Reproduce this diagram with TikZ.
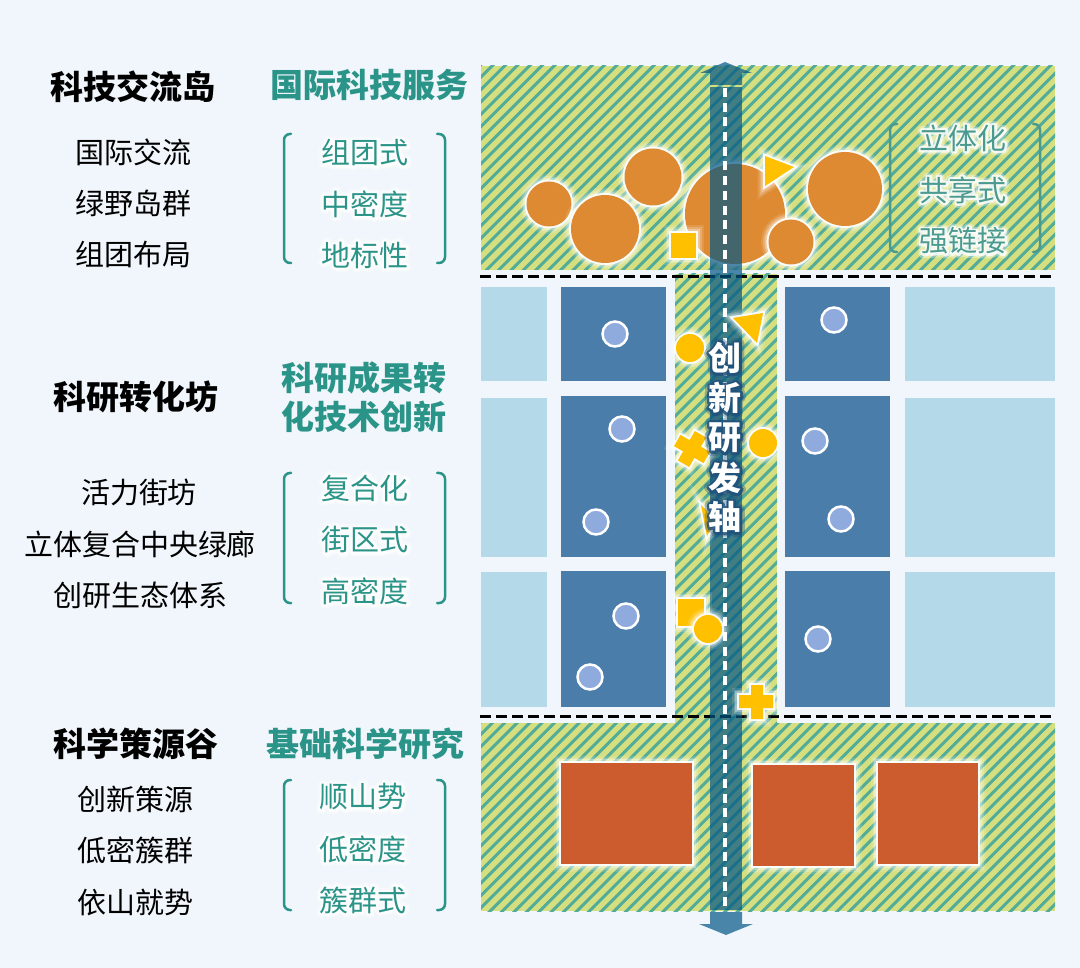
\documentclass[tikz,border=0pt]{standalone}
\usepackage{fontspec}
\setmainfont{Noto Sans CJK SC}
\newfontfamily\halofam[FakeBold=16]{Noto Sans CJK SC}
\newfontfamily\halofamwide[FakeBold=30]{Noto Sans CJK SC}
\definecolor{bgc}{HTML}{F0F6FB}
\definecolor{tealtxt}{HTML}{2B9488}
\definecolor{hatchbg}{HTML}{D5DF80}
\definecolor{hatchln}{HTML}{52AC98}
\definecolor{rtxt}{HTML}{4A9A90}
\definecolor{blockblue}{HTML}{4A7DA9}
\definecolor{blocklight}{HTML}{B4D9E8}
\definecolor{orangec}{HTML}{DD8A32}
\definecolor{brick}{HTML}{CC5B2E}
\definecolor{goldc}{HTML}{FFC000}
\definecolor{dotc}{HTML}{8FAADC}
\definecolor{axisc}{HTML}{035685}
\definecolor{axishalo}{HTML}{1F4F7A}
\tikzset{
  glow/.style={line join=round,
    preaction={draw=white,line width=15pt,opacity=.12},
    preaction={draw=white,line width=11pt,opacity=.2},
    preaction={draw=white,line width=7.5pt,opacity=.3},
    preaction={draw=white,line width=4pt,opacity=.9}},
  glowshape/.style={fill=#1,glow},
  dotmark/.style={fill=dotc,draw=white,line width=2.5pt},
  block/.style={fill=blockblue},
  lightblock/.style={fill=blocklight},
  axisfill/.style={fill=axisc,opacity=.7},
  sep/.style={draw=black,line width=3pt,dash pattern=on 11pt off 5pt},
  brk/.style={draw=#1,line width=2.5pt,line cap=round,rounded corners=6pt},
  plain/.style={inner sep=0pt,anchor=center,text=black,font=\fontsize{29}{30}\selectfont},
  title/.style={inner sep=0pt,anchor=center,text=black,font=\fontsize{33}{38}\selectfont\bfseries,align=center},
  tealtitle/.style={title,text=tealtxt},
  tealplain/.style={plain,text=tealtxt},
}
% text over wider copies of itself that form its halo
\newcommand\halotext[6]{% name, x, y, halo colour, style, text
  \node[#5,text=#4,opacity=.35,execute at begin node={\pgfsetroundjoin\halofamwide}] at (#2,#3) {#6};
  \node[#5,text=#4,opacity=.8,execute at begin node={\pgfsetroundjoin\halofam}] at (#2,#3) {#6};
  \node[#5] (#1) at (#2,#3) {#6};
}
\newcommand\hatchclip[4]{%
  \fill[hatchbg] (#1,#2) rectangle (#3,#4);
  \begin{scope}
    \clip (#1,#2) rectangle (#3,#4);
    \foreach \k in {0,...,170}
      {\draw[hatchln,line width=3pt] (\k*12.4,0) -- (\k*12.4-1000,1000);}
  \end{scope}
}
\begin{document}
\begin{tikzpicture}[x=1pt,y=-1pt]
\useasboundingbox (0,0) rectangle (1080,968);
\fill[bgc] (0,0) rectangle (1080,968);

% hatched fields
\hatchclip{481}{66}{1055}{270}
\hatchclip{675}{274}{777}{723}
\hatchclip{481}{723}{1055}{911}

% blocks
\fill[lightblock] (481,287) rectangle (547,381);
\fill[lightblock] (481,398) rectangle (547,557);
\fill[lightblock] (481,572) rectangle (547,707);
\fill[block] (561,287) rectangle (666,381);
\fill[block] (561,396) rectangle (666,557);
\fill[block] (561,571) rectangle (666,707);
\fill[block] (785,287) rectangle (890,381);
\fill[block] (785,396) rectangle (890,557);
\fill[block] (785,571) rectangle (890,707);
\fill[lightblock] (905,287) rectangle (1055,381);
\fill[lightblock] (905,398) rectangle (1055,557);
\fill[lightblock] (905,572) rectangle (1055,707);

% dots
\foreach \px/\py in {615/334,622/429,596/522,626/616,590/677,834/320,815/441,841/519,818/639}
  {\draw[dotmark] (\px,\py) circle[radius=12.5pt];}

% orange circles
\foreach \px/\py/\r in {735/214/50,549/204/22.5,605/229/34,653/177/28.5,845/189/37,791/242/22.5}
  {\path[glowshape=orangec] (\px,\py) circle[radius=\r pt];}

% brick blocks
\path[glowshape=brick] (561,763) rectangle (692,864);
\path[glowshape=brick] (753,765) rectangle (854,866);
\path[glowshape=brick] (878,763) rectangle (978,864);

% dashed separators
\coordinate (s1a) at (480,277); \coordinate (s1b) at (1055,277);
\coordinate (s2a) at (480,716); \coordinate (s2b) at (1055,716);
\draw[sep] (s1a) -- (s1b);
\draw[sep] (s2a) -- (s2b);

% axis
\fill[axisfill] (710,87) rectangle (742,910);
\fill[axisfill] (710,85) -- (710,73) -- (700,73) -- (725,62) -- (752,73) -- (742,73) -- (742,85) -- cycle;
\fill[axisfill] (710,912) -- (710,924) -- (699,924) -- (726,935) -- (753,924) -- (742,924) -- (742,912) -- cycle;
\coordinate (axT) at (725,88); \coordinate (axB) at (725,908);
\draw[white,line width=3.5pt,dash pattern=on 9pt off 5.7pt] (axT) -- (axB);

% gold marks
\path[glowshape=goldc] (671,233) rectangle (696,258);
\path[glowshape=goldc] (765,156) -- (794,167) -- (765,186) -- cycle;
\path[glowshape=goldc] (733,318) -- (763,313) -- (757,343) -- cycle;
\path[glowshape=goldc] (690,348) circle[radius=14pt];
\path[glowshape=goldc] (763,443) circle[radius=14pt];
\path[glowshape=goldc] (701,505) -- (716,520) -- (707,536) -- cycle;
\begin{scope}[shift={(692,449)},rotate=-30]
  \path[glowshape=goldc] (-6.5,-17) -- (6.5,-17) -- (6.5,-6.5) -- (17,-6.5) -- (17,6.5) -- (6.5,6.5) -- (6.5,17) -- (-6.5,17) -- (-6.5,6.5) -- (-17,6.5) -- (-17,-6.5) -- (-6.5,-6.5) -- cycle;
\end{scope}
\path[glowshape=goldc] (678,599) rectangle (704,626);
\path[glowshape=goldc] (708,629) circle[radius=14pt];
\path[glowshape=goldc] (751,685) -- (763,685) -- (763,695) -- (773,695) -- (773,708) -- (763,708) -- (763,719) -- (751,719) -- (751,708) -- (739,708) -- (739,695) -- (751,695) -- cycle;

% axis text
\halotext{a1}{725}{358}{axishalo}{title,text=white}{创}
\halotext{a2}{725}{398}{axishalo}{title,text=white}{新}
\halotext{a3}{725}{438}{axishalo}{title,text=white}{研}
\halotext{a4}{725}{478}{axishalo}{title,text=white}{发}
\halotext{a5}{725}{517}{axishalo}{title,text=white}{轴}

% top right
\draw[brk=rtxt] (897,124) -- (890,124) -- (890,252) -- (897,252);
\draw[brk=rtxt] (1033,124) -- (1040,124) -- (1040,252) -- (1033,252);
\halotext{r1}{963}{138}{white}{tealplain,text=rtxt}{立体化}
\halotext{r2}{963}{190}{white}{tealplain,text=rtxt}{共享式}
\halotext{r3}{963}{241}{white}{tealplain,text=rtxt}{强链接}

% section 1
\node[title] (t1) at (133,87) {科技交流岛};
\node[tealtitle] (h1) at (369,85) {国际科技服务};
\node[plain] (p11) at (133,152) {国际交流};
\node[plain] (p12) at (133,203) {绿野岛群};
\node[plain] (p13) at (133,254) {组团布局};
\draw[brk=tealtxt] (291,134) -- (284,134) -- (284,263) -- (291,263);
\draw[brk=tealtxt] (437,134) -- (445,134) -- (445,263) -- (437,263);
\halotext{k11}{365}{153}{white}{tealplain}{组团式}
\halotext{k12}{365}{204}{white}{tealplain}{中密度}
\halotext{k13}{365}{255}{white}{tealplain}{地标性}

% section 2
\node[title] (t2) at (136,397) {科研转化坊};
\node[tealtitle] (h2a) at (364,378) {科研成果转};
\node[tealtitle] (h2b) at (364,417) {化技术创新};
\node[plain] (p21) at (139,492) {活力街坊};
\node[plain] (p22) at (140,544) {立体复合中央绿廊};
\node[plain] (p23) at (140,595) {创研生态体系};
\draw[brk=tealtxt] (291,473) -- (284,473) -- (284,603) -- (291,603);
\draw[brk=tealtxt] (437,473) -- (445,473) -- (445,603) -- (437,603);
\halotext{k21}{365}{488}{white}{tealplain}{复合化}
\halotext{k22}{365}{540}{white}{tealplain}{街区式}
\halotext{k23}{365}{591}{white}{tealplain}{高密度}

% section 3
\node[title] (t3) at (136,744) {科学策源谷};
\node[tealtitle] (h3) at (365,744) {基础科学研究};
\node[plain] (p31) at (135,799) {创新策源};
\node[plain] (p32) at (135,850) {低密簇群};
\node[plain] (p33) at (135,902) {依山就势};
\draw[brk=tealtxt] (291,780) -- (284,780) -- (284,910) -- (291,910);
\draw[brk=tealtxt] (437,780) -- (445,780) -- (445,910) -- (437,910);
\halotext{k31}{363}{797}{white}{tealplain}{顺山势}
\halotext{k32}{363}{849}{white}{tealplain}{低密度}
\halotext{k33}{363}{900}{white}{tealplain}{簇群式}
\end{tikzpicture}
\end{document}
